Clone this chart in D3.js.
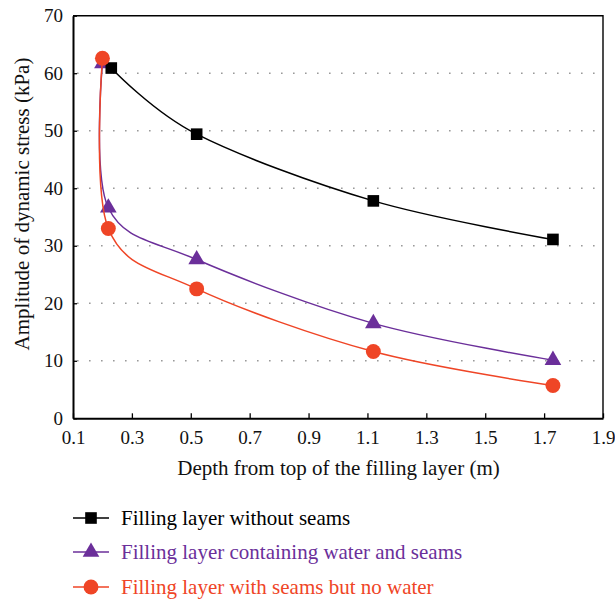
<!DOCTYPE html>
<html>
<head>
<meta charset="utf-8">
<script src="https://cdn.jsdelivr.net/npm/d3@7"></script>
<style>
  body { margin: 0; background: #fff; }
  svg { display: block; }
  text { font-family: "Liberation Serif", "Times New Roman", serif; }
</style>
</head>
<body>
<svg id="chart" width="615" height="603"></svg>
<script>
// Measured dynamic stress amplitude vs depth for three filling-layer conditions
const depthNoSeams = [0.23, 0.52, 1.12, 1.73];
const stressNoSeams = [60.9, 49.4, 37.8, 31.1];

const depthWaterSeams = [0.2, 0.22, 0.52, 1.12, 1.73];
const stressWaterSeams = [61.7, 36.6, 27.6, 16.5, 10.1];

const depthDrySeams = [0.2, 0.22, 0.52, 1.12, 1.73];
const stressDrySeams = [62.6, 33.0, 22.5, 11.6, 5.7];

const xTicks = [0.1, 0.3, 0.5, 0.7, 0.9, 1.1, 1.3, 1.5, 1.7, 1.9];
const yTicks = [0, 10, 20, 30, 40, 50, 60, 70];
const gridValues = [10, 20, 30, 40, 50, 60];

const seriesNames = [
  "Filling layer without seams",
  "Filling layer containing water and seams",
  "Filling layer with seams but no water"
];
const seriesColors = ["#000000", "#6b2f9a", "#ef4526"];
const seriesSymbols = [d3.symbolSquare, d3.symbolTriangle, d3.symbolCircle];

const svg = d3.select("#chart");
const x = d3.scaleLinear().domain([0.1, 1.9]).range([73, 603]);
const y = d3.scaleLinear().domain([0, 70]).range([418.3, 15.7]);

// dotted horizontal gridlines
svg.append("g").selectAll("line").data(gridValues).join("line")
  .attr("x1", x(0.1) + 4).attr("x2", x(1.9))
  .attr("y1", d => y(d)).attr("y2", d => y(d))
  .attr("stroke", "#9a9a9a").attr("stroke-width", 1.6)
  .attr("stroke-dasharray", "1.6,10.4");

// frame: top and right edges
svg.append("path")
  .attr("d", `M${x(0.1)},${y(70)}H${x(1.9)}V${y(0)}`)
  .attr("fill", "none").attr("stroke", "#000").attr("stroke-width", 1.4);

// bottom axis
const xAxis = svg.append("g").attr("transform", `translate(0,${y(0)})`)
  .call(d3.axisBottom(x).tickValues(xTicks).tickSizeInner(-5).tickSizeOuter(0)
    .tickPadding(12).tickFormat(d3.format(".1f")));
xAxis.select(".domain").attr("stroke-width", 2);
xAxis.selectAll(".tick line").attr("stroke-width", 1.3);
xAxis.selectAll(".tick text").attr("font-size", 19).attr("fill", "#111")
  .attr("font-family", "Liberation Serif, serif");

// left axis
const yAxis = svg.append("g").attr("transform", `translate(${x(0.1)},0)`)
  .call(d3.axisLeft(y).tickValues(yTicks).tickSizeInner(-4).tickSizeOuter(0)
    .tickPadding(10).tickFormat(d3.format("d")));
yAxis.select(".domain").attr("stroke-width", 2);
yAxis.selectAll(".tick line").attr("stroke-width", 1.3);
yAxis.selectAll(".tick text").attr("font-size", 19).attr("fill", "#111")
  .attr("font-family", "Liberation Serif, serif");

// axis titles
svg.append("text")
  .attr("x", 338.5).attr("y", 475)
  .attr("text-anchor", "middle").attr("font-size", 21).attr("fill", "#111")
  .text("Depth from top of the filling layer (m)");

svg.append("text")
  .attr("transform", "translate(29,204) rotate(-90)")
  .attr("text-anchor", "middle").attr("font-size", 21).attr("fill", "#111")
  .text("Amplitude of dynamic stress (kPa)");

// series
const series = [
  { xs: depthNoSeams, ys: stressNoSeams },
  { xs: depthWaterSeams, ys: stressWaterSeams },
  { xs: depthDrySeams, ys: stressDrySeams }
].map((s, i) => ({
  name: seriesNames[i],
  color: seriesColors[i],
  symbol: seriesSymbols[i],
  points: s.xs.map((v, j) => [v, s.ys[j]])
}));

const symbolSizes = [135, 120, 175];
const line = d3.line().x(d => x(d[0])).y(d => y(d[1])).curve(d3.curveCardinal.tension(0));

// draw order: water+seams, without seams, dry seams on top
const order = [1, 0, 2];
order.forEach(i => {
  const s = series[i];
  const g = svg.append("g");
  g.append("path").datum(s.points)
    .attr("d", line).attr("fill", "none")
    .attr("stroke", s.color).attr("stroke-width", 1.5);
  g.selectAll("path.mark").data(s.points).join("path")
    .attr("class", "mark")
    .attr("transform", d => `translate(${x(d[0])},${y(d[1])})`)
    .attr("d", d3.symbol().type(s.symbol).size(symbolSizes[i]))
    .attr("fill", s.color);
});

// legend
const legendRows = [518, 552, 587];
series.forEach((s, i) => {
  const g = svg.append("g").attr("transform", `translate(0,${legendRows[i]})`);
  g.append("line").attr("x1", 73).attr("x2", 109).attr("y1", 0).attr("y2", 0)
    .attr("stroke", s.color).attr("stroke-width", 1.5);
  g.append("path").attr("transform", "translate(91,0)")
    .attr("d", d3.symbol().type(s.symbol).size(symbolSizes[i]))
    .attr("fill", s.color);
  g.append("text").attr("x", 121).attr("y", 7)
    .attr("font-size", 21).attr("fill", s.color)
    .text(s.name);
});
</script>
</body>
</html>
